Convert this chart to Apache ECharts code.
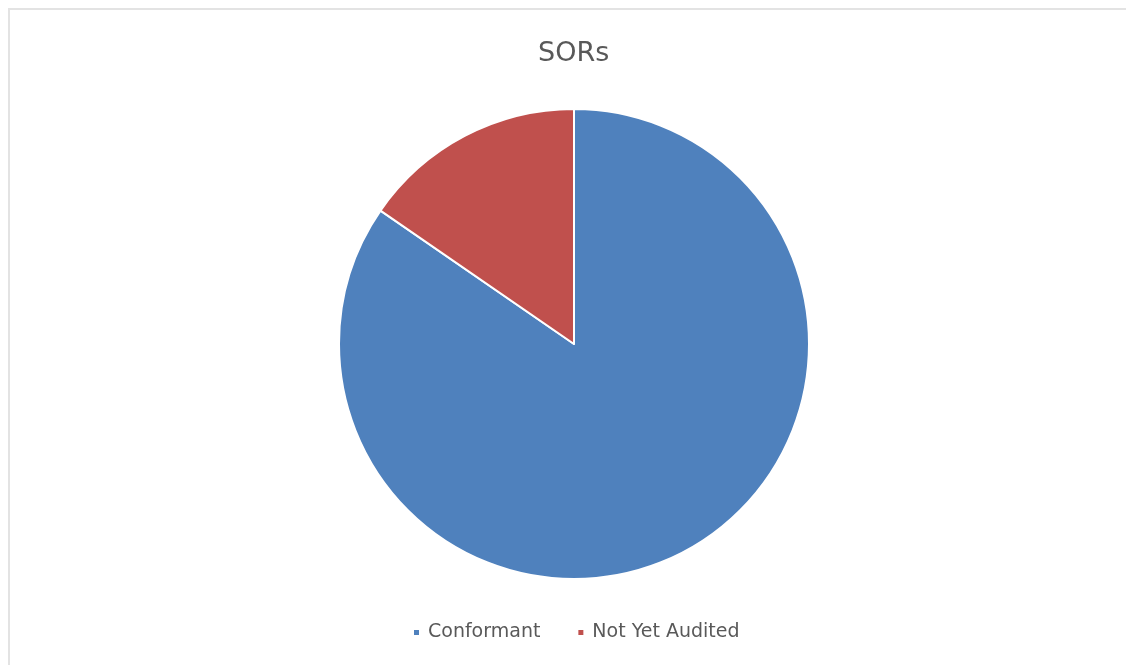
<!DOCTYPE html>
<html>
<head>
<meta charset="utf-8">
<script src="https://cdn.jsdelivr.net/npm/echarts@6/dist/echarts.min.js"></script>
<style>
html,body{margin:0;padding:0;background:#fff;}
#frame{position:absolute;left:8px;top:8px;width:1118px;height:657px;border-top:2px solid #e3e3e3;border-left:2px solid #e3e3e3;box-sizing:border-box;}
#chart{position:absolute;left:0;top:0;width:1126px;height:665px;}
</style>
</head>
<body>
<div id="frame"></div>
<div id="chart"></div>
<script>
const titleText = "SORs";
const categories = ["Conformant", "Not Yet Audited"];
const values = [84.6, 15.4];
const colors = ["#4F81BD", "#C0504D"];

const chart = echarts.init(document.getElementById('chart'), null, {renderer: 'canvas'});
chart.setOption({
  backgroundColor: 'transparent',
  animation: false,
  title: {
    text: titleText,
    left: 533,
    top: 35,
    textStyle: {fontFamily: 'DejaVu Sans', fontSize: 27, fontWeight: 'normal', color: '#595959'}
  },
  legend: {
    top: 618,
    left: 407,
    itemWidth: 7,
    itemHeight: 7,
    itemGap: 36,
    icon: 'rect',
    textStyle: {fontFamily: 'DejaVu Sans', fontSize: 19, color: '#595959', padding: [0, 0, 0, 3]},
    data: categories
  },
  color: colors,
  series: [{
    type: 'pie',
    center: [574, 344],
    radius: 235,
    startAngle: 90,
    clockwise: true,
    label: {show: false},
    labelLine: {show: false},
    itemStyle: {borderColor: '#ffffff', borderWidth: 2},
    emphasis: {disabled: true},
    data: categories.map((c, i) => ({name: c, value: values[i]}))
  }]
});
</script>
</body>
</html>
